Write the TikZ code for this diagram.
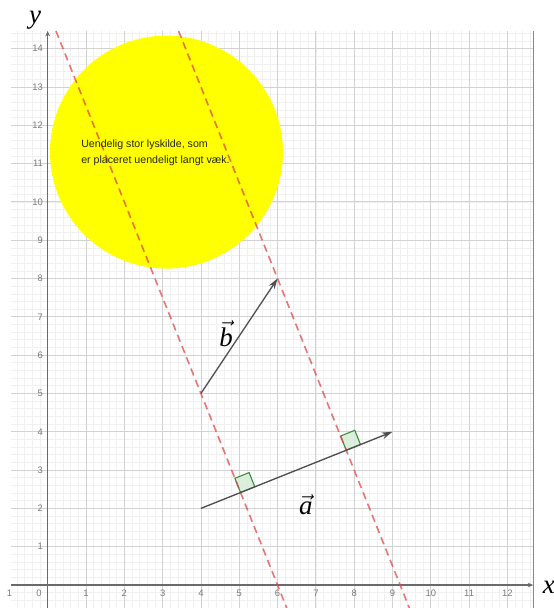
\documentclass[tikz,border=0pt]{standalone}
\usepackage{fontspec}
\setmainfont{Liberation Sans}
\newfontfamily\serifit{Liberation Serif}
\usetikzlibrary{arrows.meta,calc}
\definecolor{minorgrid}{HTML}{F0F0F0}
\definecolor{majorgrid}{HTML}{D2D2D2}
\definecolor{axisgray}{HTML}{6A6A6A}
\definecolor{ticklab}{HTML}{7A7A7A}
\definecolor{vecgray}{HTML}{505050}
\definecolor{raycol}{HTML}{E04848}
\definecolor{sunyellow}{HTML}{FFFF00}
\definecolor{rightedge}{HTML}{3C8C3C}
\definecolor{rightfill}{HTML}{D6ECD6}
\tikzset{
  minorlines/.style={draw=minorgrid, line width=0.5pt},
  majorlines/.style={draw=majorgrid, line width=0.6pt},
  axisline/.style={draw=axisgray, line width=0.9pt, -{Stealth[length=4pt,width=3.5pt]}},
  ticklabel/.style={text=ticklab, font=\fontsize{7}{8}\selectfont, inner sep=0pt},
  vecline/.style={draw=vecgray, line width=1pt, -{Stealth[length=8pt,width=5pt]}},
  rayline/.style={draw=raycol, line width=1.2pt, dash pattern=on 5.5pt off 3.5pt, opacity=0.75},
  rightmark/.style={draw=rightedge, fill=rightfill, line width=0.8pt, fill opacity=0.85},
  biglabel/.style={font=\fontsize{20}{24}\selectfont, inner sep=0pt},
  suntext/.style={font=\fontsize{7.9}{11.9}\selectfont, text=black!85, align=left, inner sep=0pt}
}
\begin{document}
\begin{tikzpicture}
\useasboundingbox (-1.245,-0.6) rectangle (13.19,15.27);
% grid
\draw[minorlines, step=0.2] (-0.96,-0.6) grid (12.67,14.46);
\draw[majorlines, step=1] (-0.96,-0.6) grid (12.67,14.46);
\draw[draw=axisgray!80, line width=0.7pt] (12.67,-0.6) -- (12.67,14.46);
% sun
\fill[sunyellow] (3.1,11.3) circle (3.04);
% axes
\coordinate (xs) at (-0.96,0);
\coordinate (xe) at (12.67,0);
\coordinate (ys) at (0,-0.6);
\coordinate (ye) at (0,14.46);
\draw[axisline] (xs) -- (xe);
\draw[axisline] (ys) -- (ye);
% tick labels
\node[ticklabel] (tm1) at (-1,-0.21) {1};
\node[ticklabel] (t0) at (-0.23,-0.21) {0};
\foreach \i in {1,...,12} {\node[ticklabel] (tx\i) at (\i,-0.21) {\i};}
\foreach \j in {1,...,14} {\node[ticklabel, anchor=east] (ty\j) at (-0.12,\j) {\j};}
% axis names
\node[biglabel, anchor=base] (ylab) at (-0.33,14.65) {\serifit\itshape y};
\node[biglabel, anchor=base west] (xlab) at (12.92,-0.21) {\serifit\itshape x};
% vectors
\coordinate (A0) at (4,2);
\coordinate (A1) at (9,4);
\coordinate (B0) at (4,5);
\coordinate (B1) at (6,8);
% rays
\coordinate (R1t) at (0.216,14.46);
\coordinate (R1b) at (6.24,-0.6);
\coordinate (R2t) at (3.416,14.46);
\coordinate (R2b) at (9.44,-0.6);
\coordinate (P1) at (intersection of A0--A1 and R1t--R1b);
\coordinate (P2) at (intersection of A0--A1 and R2t--R2b);
% right angle markers
\coordinate (P1a) at ($(P1)!0.4cm!(A1)$);
\coordinate (P1b) at ($(P1)!0.4cm!(B0)$);
\coordinate (P2a) at ($(P2)!0.4cm!(A1)$);
\coordinate (P2b) at ($(P2)!0.4cm!(B1)$);
\draw[rightmark] (P1) -- (P1a) -- ($(P1a)+(P1b)-(P1)$) -- (P1b) -- cycle;
\draw[rightmark] (P2) -- (P2a) -- ($(P2a)+(P2b)-(P2)$) -- (P2b) -- cycle;
\draw[rayline] (R1t) -- (R1b);
\draw[rayline] (R2t) -- (R2b);
\draw[vecline] (A0) -- (A1);
\draw[vecline] (B0) -- (B1);
% vector labels
\node[biglabel, anchor=base] (blab) at (4.66,6.22) {$\vec{\hbox{\serifit\itshape b}}$};
\node[biglabel, anchor=base] (alab) at (6.74,1.83) {$\vec{\hbox{\serifit\itshape a}}$};
% sun text
\node[suntext, anchor=west] (sun) at (0.87,11.28) {Uendelig stor lyskilde, som\\er placeret uendeligt langt væk.};
\end{tikzpicture}
\end{document}
